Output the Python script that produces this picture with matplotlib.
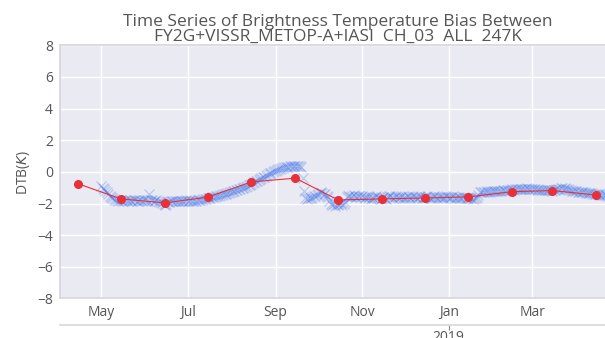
import datetime as dt
import matplotlib
matplotlib.use('Agg')
import matplotlib.pyplot as plt
import matplotlib.dates as mdates
import numpy as np
import pandas as pd

# daily bias values (x markers), 2018-05-01 onwards, one list per month
may = [-0.90, -1.00, -1.10, -1.20, -1.30, -1.40, -1.50, -1.58, -1.65, -1.70, -1.75, -1.80, -1.82, -1.80, -1.78, -1.82,
       -1.85, -1.80, -1.78, -1.82, -1.80, -1.85, -1.83, -1.78, -1.80, -1.82, -1.84, -1.80, -1.78, -1.82, -1.80]
jun = [-1.80, -1.78, -1.82, -1.40, -1.75, -1.80, -1.83, -1.85, -1.80, -1.82, -1.88, -1.90, -1.95, -2.05, -2.10, -2.00,
       -1.92, -1.88, -1.85, -1.83, -1.86, -1.84, -1.82, -1.85, -1.87, -1.84, -1.82, -1.85, -1.83, -1.80]
jul = [-1.82, -1.84, -1.80, -1.83, -1.81, -1.85, -1.82, -1.80, -1.78, -1.80, -1.76, -1.74, -1.72, -1.70, -1.66, -1.64,
       -1.62, -1.60, -1.58, -1.56, -1.54, -1.52, -1.50, -1.47, -1.45, -1.42, -1.40, -1.37, -1.35, -1.32, -1.30]
aug = [-1.27, -1.24, -1.20, -1.17, -1.14, -1.10, -1.07, -1.04, -1.00, -0.97, -0.93, -0.89, -0.85, -0.80, -0.75, -0.70,
       -0.65, -0.60, -0.55, -0.50, -0.45, -0.40, -0.35, -0.30, -0.25, -0.20, -0.15, -0.10, -0.05, 0.00, 0.03]
sep = [0.08, 0.12, 0.16, 0.20, 0.23, 0.26, 0.28, 0.30, 0.32, 0.33, 0.34, 0.35, 0.36, 0.36, 0.37, 0.36, 0.38, 0.35, 0.30,
       -0.40, -1.20, -1.65, -1.70, -1.68, -1.65, -1.62, -1.60, -1.55, -1.50, -1.45]
oct_ = [-1.40, -1.35, -1.30, -1.32, -1.38, -1.42, -1.50, -1.60, -1.85, -2.00, -2.10, -2.05, -2.15, -2.00, -2.10, -2.05,
        -1.95, -2.10, -2.00, -1.90, -1.60, -1.55, -1.50, -1.58, -1.52, -1.48, -1.55, -1.60, -1.50, -1.55, -1.58]
nov = [-1.55, -1.60, -1.65, -1.58, -1.62, -1.55, -1.70, -1.60, -1.65, -1.58, -1.52, -1.60, -1.66, -1.72, -1.62, -1.58,
       -1.64, -1.70, -1.60, -1.55, -1.50, -1.58, -1.62, -1.56, -1.52, -1.60, -1.65, -1.58, -1.55, -1.62]
dec = [-1.62, -1.58, -1.55, -1.60, -1.65, -1.58, -1.52, -1.56, -1.60, -1.64, -1.58, -1.55, -1.62, -1.66, -1.60, -1.56,
       -1.52, -1.58, -1.62, -1.65, -1.60, -1.55, -1.58, -1.62, -1.60, -1.56, -1.60, -1.64, -1.58, -1.55, -1.60]
jan = [-1.60, -1.62, -1.58, -1.55, -1.62, -1.65, -1.60, -1.58, -1.63, -1.66, -1.60, -1.57, -1.62, -1.65, -1.68, -1.62,
       -1.66, -1.70, -1.64, -1.68, -1.60, -1.45, -1.30, -1.28, -1.25, -1.30, -1.26, -1.24, -1.28, -1.25, -1.22]
feb = [-1.24, -1.22, -1.20, -1.23, -1.21, -1.18, -1.20, -1.17, -1.15, -1.18, -1.14, -1.12, -1.15, -1.13, -1.10, -1.12,
       -1.09, -1.10, -1.08, -1.10, -1.07, -1.09, -1.06, -1.08, -1.05, -1.07, -1.06, -1.08]
mar = [-1.06, -1.08, -1.10, -1.12, -1.10, -1.13, -1.15, -1.12, -1.14, -1.16, -1.13, -1.15, -1.17, -1.15, -1.18, -1.15,
       -1.12, -1.10, -1.08, -1.06, -1.05, -1.04, -1.06, -1.05, -1.08, -1.10, -1.12, -1.15, -1.18, -1.20, -1.22]
apr = [-1.24, -1.25, -1.27, -1.26, -1.28, -1.30, -1.29, -1.31, -1.33, -1.32, -1.35, -1.36, -1.38, -1.40, -1.42, -1.41,
       -1.43, -1.45, -1.44, -1.46, -1.48, -1.47, -1.50, -1.52]

daily_bias = may + jun + jul + aug + sep + oct_ + nov + dec + jan + feb + mar + apr
daily_dates = pd.date_range('2018-05-01', periods=len(daily_bias), freq='D')

# monthly mean bias (red dots), mid-month Apr 2018 .. Apr 2019
monthly_dates = pd.date_range('2018-04-01', periods=13, freq='MS') + pd.Timedelta(days=14)
monthly_bias = [-0.76, -1.71, -1.96, -1.60, -0.63, -0.40, -1.77, -1.71, -1.65, -1.58, -1.25, -1.18, -1.46]

title = 'Time Series of Brightness Temperature Bias Between\nFY2G+VISSR_METOP-A+IASI  CH_03  ALL  247K'

plt.rcParams['font.family'] = ['Open Sans', 'DejaVu Sans']
txt = '#555555'

fig = plt.figure(figsize=(6.05, 3.38), dpi=100)
ax = fig.add_axes([60 / 605, 0.117, 556 / 605, 0.749])
ax.set_facecolor('#EAEAF2')

ax.plot(daily_dates, daily_bias, linestyle='none', marker='x', color='#3a6ee8',
        markersize=7.5, markeredgewidth=0.9, alpha=0.28, zorder=2)
ax.plot(monthly_dates, monthly_bias, color='#e8303a', linewidth=0.8, marker='o',
        markersize=5.5, zorder=3)

ax.set_xlim(dt.datetime(2018, 4, 2), dt.datetime(2019, 4, 29))
ax.set_ylim(-8, 8)
ax.set_yticks(np.arange(-8, 9, 2))
ax.xaxis.set_major_locator(mdates.MonthLocator(bymonth=[1, 3, 5, 7, 9, 11]))
ax.xaxis.set_major_formatter(mdates.DateFormatter('%b'))

ax.grid(True, color='white', linewidth=1.0)
ax.set_axisbelow(True)
ax.tick_params(axis='both', length=0, labelsize=10, colors=txt, pad=5)
for s in ax.spines.values():
    s.set_color('#d5d5dc')
    s.set_linewidth(1.2)
ax.spines['right'].set_visible(False)

ax.set_ylabel('DTB($K$)', fontsize=10, color=txt, labelpad=4)
ax.set_title(title, fontsize=12.5, color=txt, pad=3, linespacing=0.95)

# year axis under the month labels
sec = ax.secondary_xaxis(-0.105)
sec.set_xticks([mdates.date2num(dt.datetime(2019, 1, 1))])
sec.set_xticklabels(['2019'])
sec.tick_params(length=3.5, width=0.8, color='#888888', labelsize=10, labelcolor=txt, pad=0)
sec.spines['bottom'].set_color('#d5d5dc')
sec.spines['bottom'].set_linewidth(1.2)

fig.savefig('out.png', dpi=100)
